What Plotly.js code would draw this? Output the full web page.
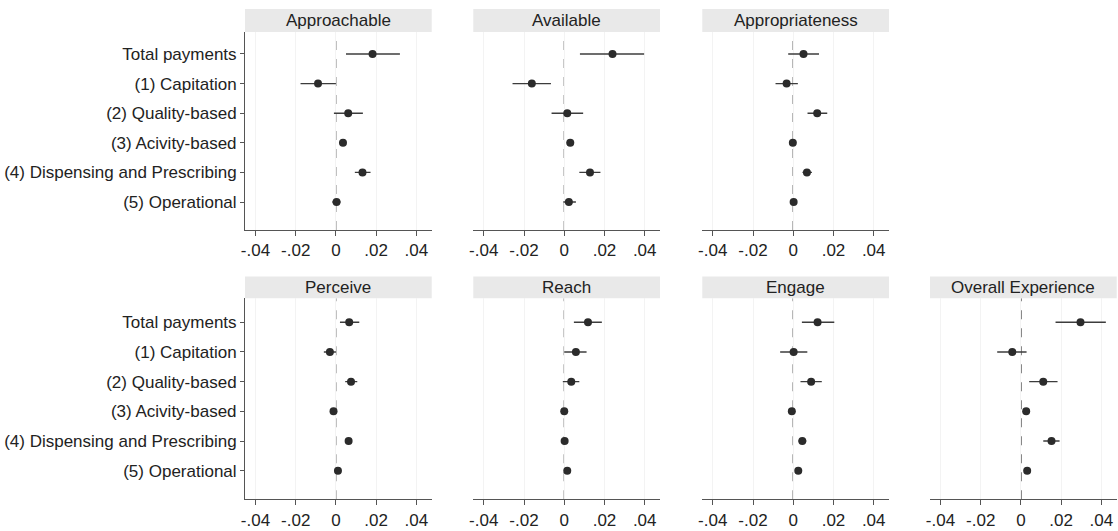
<!DOCTYPE html>
<html>
<head>
<meta charset="utf-8">
<script src="https://cdn.plot.ly/plotly-3.0.1.min.js"></script>
<style>html,body{margin:0;padding:0;background:#fff;}#chart{width:1118px;height:531px;}</style>
</head>
<body>
<div id="chart"></div>
<script>
// Categories (top to bottom)
const categories = ["Total payments", "(1) Capitation", "(2) Quality-based", "(3) Acivity-based", "(4) Dispensing and Prescribing", "(5) Operational"];
const xTickVals = [-0.04, -0.02, 0, 0.02, 0.04];
const xTickText = ["-.04", "-.02", "0", ".02", ".04"];
const panelTitles = ["Approachable", "Available", "Appropriateness", "Perceive", "Reach", "Engage", "Overall Experience"];

// Point estimates and 95% CI bounds per panel
const approachableCoef = [0.0182, -0.0089, 0.0061, 0.0035, 0.0132, 0.0003];
const approachableLo   = [0.0050, -0.0176, -0.0010, 0.0022, 0.0094, -0.0018];
const approachableHi   = [0.0318, 0.0000, 0.0134, 0.0048, 0.0172, 0.0023];

const availableCoef = [0.0240, -0.0161, 0.0015, 0.0030, 0.0128, 0.0023];
const availableLo   = [0.0078, -0.0257, -0.0063, 0.0012, 0.0075, -0.0005];
const availableHi   = [0.0397, -0.0066, 0.0094, 0.0048, 0.0180, 0.0058];

const appropriatenessCoef = [0.0051, -0.0033, 0.0119, -0.0002, 0.0068, 0.0002];
const appropriatenessLo   = [-0.0025, -0.0088, 0.0071, -0.0010, 0.0046, -0.0006];
const appropriatenessHi   = [0.0128, 0.0023, 0.0169, 0.0006, 0.0093, 0.0010];

const perceiveCoef = [0.0066, -0.0030, 0.0075, -0.0012, 0.0063, 0.0010];
const perceiveLo   = [0.0020, -0.0060, 0.0046, -0.0020, 0.0055, 0.0002];
const perceiveHi   = [0.0116, 0.0000, 0.0106, -0.0004, 0.0071, 0.0018];

const reachCoef = [0.0118, 0.0058, 0.0035, 0.0000, 0.0002, 0.0015];
const reachLo   = [0.0048, 0.0000, -0.0007, -0.0008, -0.0006, 0.0006];
const reachHi   = [0.0187, 0.0111, 0.0075, 0.0008, 0.0010, 0.0024];

const engageCoef = [0.0121, 0.0002, 0.0089, -0.0007, 0.0045, 0.0025];
const engageLo   = [0.0043, -0.0065, 0.0036, -0.0015, 0.0026, 0.0017];
const engageHi   = [0.0204, 0.0070, 0.0142, 0.0001, 0.0065, 0.0033];

const overallCoef = [0.0296, -0.0043, 0.0111, 0.0026, 0.0152, 0.0031];
const overallLo   = [0.0172, -0.0118, 0.0041, 0.0018, 0.0111, 0.0015];
const overallHi   = [0.0422, 0.0028, 0.0182, 0.0034, 0.0192, 0.0050];

const panels = [
  {coef: approachableCoef, lo: approachableLo, hi: approachableHi},
  {coef: availableCoef, lo: availableLo, hi: availableHi},
  {coef: appropriatenessCoef, lo: appropriatenessLo, hi: appropriatenessHi},
  {coef: perceiveCoef, lo: perceiveLo, hi: perceiveHi},
  {coef: reachCoef, lo: reachLo, hi: reachHi},
  {coef: engageCoef, lo: engageLo, hi: engageHi},
  {coef: overallCoef, lo: overallLo, hi: overallHi}
];

// Layout geometry
const W = 1118, H = 531;
const colDomains = [[245, 431.7], [473.3, 660], [702.3, 889], [930, 1116.7]];
const rowPx = [[32, 230], [298.3, 499.3]];
const yRanges = [[5.946, -0.743], [5.964, -0.809]];
const stripPx = [[9, 32], [276.5, 298.3]];
const placement = [[0,0],[0,1],[0,2],[1,0],[1,1],[1,2],[1,3]];
const zeroColors = ["#8a8a8a", "#6a6a6a", "#3a3a3a", "#8a8a8a", "#6a6a6a", "#3a3a3a", "#222"];

const font = "Arial, 'Liberation Sans', sans-serif";
const traces = [];
const layout = {
  width: W, height: H,
  margin: {l: 0, r: 0, t: 0, b: 0},
  paper_bgcolor: "#fff", plot_bgcolor: "#fff",
  showlegend: false,
  font: {family: font, size: 17, color: "#222"},
  shapes: [], annotations: []
};

const yIdx = categories.map((c, i) => i);

panels.forEach((p, k) => {
  const [r, c] = placement[k];
  const n = k + 1;
  const xa = n === 1 ? "x" : "x" + n;
  const ya = n === 1 ? "y" : "y" + n;
  traces.push({
    type: "scatter", mode: "markers",
    x: p.coef, y: yIdx,
    xaxis: xa, yaxis: ya,
    marker: {size: 8, color: "#2b2b2b"},
    error_x: {
      type: "data", symmetric: false,
      array: p.hi.map((h, i) => h - p.coef[i]),
      arrayminus: p.lo.map((l, i) => p.coef[i] - l),
      color: "#3c3c3c", thickness: 1.4, width: 0
    },
    hoverinfo: "x+y"
  });
  const xd = colDomains[c].map(v => v / W);
  const yd = [1 - rowPx[r][1] / H, 1 - rowPx[r][0] / H];
  const axKeyX = n === 1 ? "xaxis" : "xaxis" + n;
  const axKeyY = n === 1 ? "yaxis" : "yaxis" + n;
  layout[axKeyX] = {
    domain: xd, anchor: ya, range: [-0.0452, 0.0476],
    tickvals: xTickVals, ticktext: xTickText,
    ticks: "outside", ticklen: 5, tickcolor: "#555", tickwidth: 1,
    showline: true, linecolor: "#555", linewidth: 1,
    showgrid: true, gridcolor: "#f3f3f3", gridwidth: 1,
    zeroline: false,
    tickfont: {family: font, size: 17, color: "#222"},
    fixedrange: true
  };
  layout[axKeyY] = {
    domain: yd, anchor: xa, range: yRanges[r],
    tickvals: yIdx, ticktext: c === 0 ? categories : categories.map(() => ""),
    showticklabels: c === 0,
    ticks: c === 0 ? "outside" : "", ticklen: 4, tickcolor: "#555",
    showline: c === 0, linecolor: "#555", linewidth: 1,
    showgrid: false, zeroline: false,
    tickfont: {family: font, size: 17, color: "#222"},
    fixedrange: true
  };
  // dashed zero reference line
  layout.shapes.push({
    type: "line", xref: xa, yref: ya + " domain",
    x0: 0, x1: 0, y0: 0, y1: 1,
    line: {color: zeroColors[k], width: 1.2, dash: "dash"}, layer: "below"
  });
  // strip header
  layout.shapes.push({
    type: "rect", xref: "paper", yref: "paper",
    x0: xd[0], x1: xd[1],
    y0: 1 - stripPx[r][1] / H, y1: 1 - stripPx[r][0] / H,
    fillcolor: "#e9e9e9", line: {width: 0}, layer: "below"
  });
  layout.annotations.push({
    xref: "paper", yref: "paper",
    x: (xd[0] + xd[1]) / 2, y: 1 - (stripPx[r][0] + stripPx[r][1]) / 2 / H,
    xanchor: "center", yanchor: "middle",
    text: panelTitles[k], showarrow: false,
    font: {family: font, size: 17, color: "#222"}
  });
});

Plotly.newPlot("chart", traces, layout, {displayModeBar: false, staticPlot: true});
</script>
</body>
</html>
